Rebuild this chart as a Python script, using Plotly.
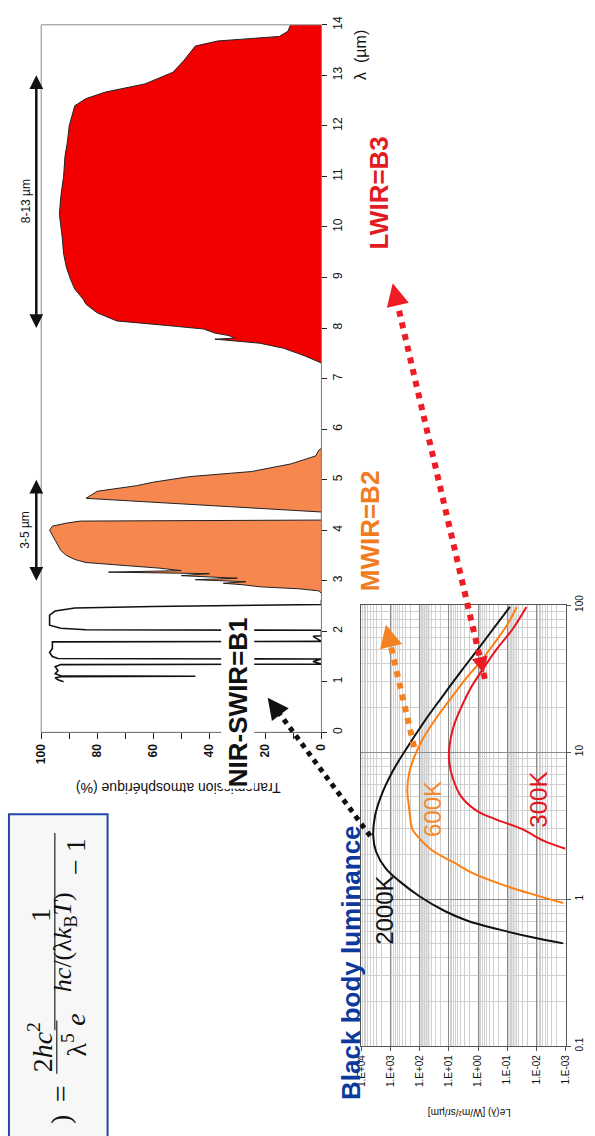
import math
import plotly.graph_objects as go

W, H = 595, 1136
SANS = "Liberation Sans, Arial, Helvetica, sans-serif"
SERIF = "Liberation Serif, Times New Roman, serif"

# ---------------- Atmospheric transmission (wavelength in µm, transmission in %) ----------------
b1_wl = [1.00, 1.04, 1.08, 1.10, 1.11, 1.12, 1.16, 1.22, 1.30, 1.34, 1.35, 1.40, 1.45, 1.46,
         1.50, 1.58, 1.66, 1.74, 1.79, 1.80, 1.90, 1.91, 2.02, 2.03, 2.06, 2.12, 2.22, 2.32,
         2.40, 2.46, 2.49, 2.52, 2.53, 2.62]
b1_tr = [92, 94, 95, 93, 45, 93, 95, 94, 95, 93, 0, 3, 0, 94,
         96, 97, 96, 96, 96, 0, 3, 0, 0, 84, 93, 97, 97, 97,
         95, 88, 60, 25, 0, 0]

mwir_wl = [2.75, 2.80, 2.84, 2.88, 2.92, 2.95, 2.98, 3.02, 3.05, 3.10, 3.14, 3.17, 3.20, 3.25,
           3.30, 3.36, 3.42, 3.50, 3.60, 3.69, 3.80, 3.90, 4.00, 4.08, 4.14, 4.18, 4.19, 4.20,
           4.36, 4.45, 4.55, 4.63, 4.70, 4.77, 4.88, 4.95, 5.06, 5.16, 5.31, 5.40, 5.47, 5.58, 5.62]
mwir_tr = [0, 1, 8, 22, 28, 35, 27, 45, 30, 50, 40, 76, 50, 58,
           70, 84, 88, 91, 93, 94, 95, 96, 97, 96, 91, 86, 40, 0,
           0, 28, 56, 84, 82, 80, 66, 60, 47, 25, 11, 6, 2, 1, 0]

lwir_wl = [7.30, 7.32, 7.45, 7.60, 7.70, 7.78, 7.80, 7.85, 7.90, 7.98, 8.05, 8.14, 8.30, 8.47,
           8.57, 8.77, 8.96, 9.20, 9.47, 9.80, 10.25, 10.60, 11.00, 11.40, 11.70, 12.00, 12.20,
           12.40, 12.54, 12.67, 12.83, 12.95, 13.06, 13.30, 13.58, 13.68, 13.77, 13.87, 14.00]
lwir_tr = [0, 0.5, 6, 13.5, 22, 38, 31, 33, 38, 42, 55, 73, 80, 84,
           85, 88, 89.5, 91, 92, 92.5, 93.5, 93, 92, 91.5, 90.6, 90, 89,
           88, 84, 77, 63, 58, 53, 49, 45, 37, 15, 12, 11]

trans_ticks = [0, 20, 40, 60, 80, 100]
wl_ticks = list(range(0, 15))

# atmospheric windows marked with double arrows (µm)
windows_lo = [3, 8]
windows_hi = [5, 13]
windows_lab = ["3-5 µm", "8-13 µm"]

# ---------------- Black body luminance (wavelength in µm, Le in W/m²/sr/µm) ----------------
bb2000_wl = [0.50, 0.55, 0.62, 0.71, 0.83, 1.05, 1.32, 1.61, 2.10, 2.70, 3.70, 5.00, 7.40,
             10.3, 16.4, 23.4, 35.5, 50.7, 69.0, 97.0]
bb2000_le = [0.0012, 0.014, 0.18, 2.2, 14, 106, 490, 1450, 3150, 3950, 3400, 2140, 850,
             310, 66, 18, 3.8, 0.96, 0.30, 0.081]

bb600_wl = [0.94, 1.06, 1.22, 1.49, 1.77, 2.13, 2.69, 3.00, 4.08, 5.56, 7.23, 9.25, 12.0,
            16.4, 23.4, 30.4, 41.4, 53.9, 73.4, 97.0]
bb600_le = [0.0012, 0.010, 0.10, 1.4, 6.6, 36, 123, 181, 229, 267, 229, 155, 84,
            31, 8.3, 3.05, 0.82, 0.30, 0.10, 0.047]

bb300_wl = [2.20, 2.49, 3.00, 3.50, 3.95, 5.00, 6.50, 8.44, 10.8, 14.7, 20.0, 27.3, 37.2,
            50.7, 69.0, 97.0]
bb300_le = [0.001, 0.0055, 0.032, 0.26, 1.03, 3.84, 7.1, 9.7, 9.7, 7.1, 3.84, 1.78, 0.65,
            0.22, 0.064, 0.022]

le_ticks = [1e-3, 1e-2, 1e-1, 1e0, 1e1, 1e2, 1e3, 1e4]
le_ticklabels = ["1.E-03", "1.E-02", "1.E-01", "1.E+00", "1.E+01", "1.E+02", "1.E+03", "1.E+04"]
bbwl_ticks = [0.1, 1, 10, 100]
bbwl_ticklabels = ["0.1", "1", "10", "100"]

# colours
RED_FILL = "#F20000"
ORANGE_FILL = "#F5874F"
C_BLACK = "#111111"
C_ORANGE = "#FF8010"
C_RED = "#E8141E"

# main plot placement (pixels)
MAIN_L, MAIN_R, MAIN_T, MAIN_B = 35, 322, 15, 732
WL_MAX = 14


def X(px):
    return px / W


def Y(py):
    return 1 - py / H


def wl_px(wl):
    return MAIN_B - wl / WL_MAX * (MAIN_B - MAIN_T)


fig = go.Figure()

# transmission spectrum (rotated: wavelength vertical, transmission horizontal)
fig.add_trace(go.Scatter(x=lwir_tr, y=lwir_wl, mode="lines", fill="tozerox", fillcolor=RED_FILL,
                         line=dict(color="#222222", width=1), xaxis="x", yaxis="y", hoverinfo="skip"))
fig.add_trace(go.Scatter(x=mwir_tr, y=mwir_wl, mode="lines", fill="tozerox", fillcolor=ORANGE_FILL,
                         line=dict(color="#222222", width=1), xaxis="x", yaxis="y", hoverinfo="skip"))
fig.add_trace(go.Scatter(x=b1_tr, y=b1_wl, mode="lines",
                         line=dict(color="#111111", width=1.6), xaxis="x", yaxis="y", hoverinfo="skip"))

# black-body curves
for wl, le, col in [(bb2000_wl, bb2000_le, C_BLACK), (bb600_wl, bb600_le, C_ORANGE),
                    (bb300_wl, bb300_le, C_RED)]:
    fig.add_trace(go.Scatter(x=le, y=wl, mode="lines", line=dict(color=col, width=2, shape="spline"),
                             xaxis="x2", yaxis="y2", hoverinfo="skip"))

shapes = []
anns = []

# main plot frame (gray)
shapes.append(dict(type="rect", xref="paper", yref="paper", x0=X(MAIN_L), x1=X(MAIN_R),
                   y0=Y(MAIN_B), y1=Y(MAIN_T), line=dict(color="#8a8a8a", width=1), layer="above"))

# shaded bands in inset
for a, b in [(45, 100), (0.047, 0.1)]:
    shapes.append(dict(type="rect", xref="x2", yref="y2 domain", x0=a, x1=b, y0=0, y1=1,
                       fillcolor="#e6e6e6", line=dict(width=0), layer="below"))

# formula box
shapes.append(dict(type="rect", xref="paper", yref="paper", x0=X(2), x1=X(103), y0=Y(1145), y1=Y(815),
                   fillcolor="#f7f7f7", line=dict(color="#2246a8", width=2), layer="below"))


def text(t, px, py, size, color="#111111", angle=-90, bold=False, family=SANS, bg=None,
         xanchor="center", yanchor="middle"):
    d = dict(text=t, x=X(px), y=Y(py), xref="paper", yref="paper", showarrow=False,
             textangle=angle, xanchor=xanchor, yanchor=yanchor,
             font=dict(family=family, size=size, color=color, weight="bold" if bold else "normal"))
    if bg:
        d["bgcolor"] = bg
    anns.append(d)


def head(px, py, tx, ty, color, width, size, L=18):
    dx, dy = px - tx, py - ty
    n = math.hypot(dx, dy)
    ux, uy = dx / n, dy / n
    anns.append(dict(x=X(px), y=Y(py), xref="paper", yref="paper", text="", showarrow=True,
                     ax=-ux * L, ay=-uy * L, arrowhead=2, arrowsize=size, arrowwidth=width,
                     arrowcolor=color, font=dict(size=10)))
    return ux, uy


def dotted_arrow(x0, y0, x1, y1, color, width, both=False, hw=3, hs=1.3, dash="dot"):
    ux, uy = head(x1, y1, x0, y0, color, hw, hs)
    sx0, sy0 = x0, y0
    if both:
        head(x0, y0, x1, y1, color, hw * 0.8, hs * 0.9, L=14)
        sx0, sy0 = x0 - ux * 6, y0 - uy * 6
    shapes.append(dict(type="line", xref="paper", yref="paper", x0=X(sx0), y0=Y(sy0),
                       x1=X(x1 - ux * 8), y1=Y(y1 - uy * 8),
                       line=dict(color=color, width=width, dash=dash)))


# band arrows 3-5 µm and 8-13 µm
for lo, hi, lab in zip(windows_lo, windows_hi, windows_lab):
    plo, phi = wl_px(lo), wl_px(hi)
    shapes.append(dict(type="line", xref="paper", yref="paper", x0=X(30), x1=X(30),
                       y0=Y(plo - 8), y1=Y(phi + 8), line=dict(color="#111111", width=2.5)))
    head(30, phi, 30, plo, "#111111", 2.5, 1.1, L=14)
    head(30, plo, 30, phi, "#111111", 2.5, 1.1, L=14)
    text(lab, 19, (plo + phi) / 2, 12)

# axis titles
text("λ  (µm)", 362, 45, 16)
text("Transmission atmosphérique (%)", 175, 789, 14, angle=180)
text("Le(λ) [W/m²/sr/µm]", 473, 1118, 10, angle=180)

# dotted arrows
dotted_arrow(372, 837, 267, 697, "#111111", 5, hw=3, hs=1.4)
dotted_arrow(417, 747, 388, 623, "#F58220", 6, hw=3, hs=1.5)
dotted_arrow(488, 672, 395, 277, "#EE1C25", 6, both=True, hw=3, hs=1.5)

# band labels
text("NIR-SWIR=B1", 236, 701, 26, bold=True, bg="white")
text("MWIR=B2", 372, 528, 26, color="#F07C1E", bold=True)
text("LWIR=B3", 381, 186, 26, color="#E31B23", bold=True)

# black body labels
text("Black body luminance", 353, 965, 26, color="#0B3A9C", bold=True)
text("2000K", 387, 912, 24, color="#111111")
text("600K", 436, 810, 24, color="#F28A2E")
text("300K", 544, 800, 24, color="#E3141E")

# formula (rotated)
text(")", 54, 1124, 28, family=SERIF)
text("=", 55, 1098, 30, family=SERIF)
text("2<i>hc</i><sup>2</sup>", 34, 1051, 28, family=SERIF)
text("λ<sup>5</sup>", 69, 1048, 28, family=SERIF)
shapes.append(dict(type="line", xref="paper", yref="paper", x0=X(51), x1=X(51), y0=Y(1024), y1=Y(1078),
                   line=dict(color="#222222", width=1.2)))
text("1", 35, 917, 28, family=SERIF)
shapes.append(dict(type="line", xref="paper", yref="paper", x0=X(49), x1=X(49), y0=Y(834), y1=Y(1034),
                   line=dict(color="#222222", width=1.2)))
text("<i>e</i>", 70, 1023, 28, family=SERIF)
text("<i>hc</i>/(λ<i>k</i><sub>B</sub><i>T</i>)", 58, 945, 26, family=SERIF)
text("− 1", 70, 858, 28, family=SERIF)

axis_common = dict(showgrid=False, zeroline=False, showline=True, linecolor="#222222", linewidth=1,
                   ticks="outside", tickcolor="#222222")

fig.update_layout(
    width=W, height=H, margin=dict(l=0, r=0, t=0, b=0),
    paper_bgcolor="white", plot_bgcolor="white", showlegend=False,
    font=dict(family=SANS, color="#111111"),
    xaxis=dict(domain=[X(MAIN_L), X(MAIN_R)], range=[100, 0], anchor="y", tickmode="array",
               tickvals=trans_ticks, tickangle=-90, ticklen=6,
               tickfont=dict(size=12, weight="bold"),
               minor=dict(dtick=10, ticks="outside", ticklen=6, tickcolor="#222222"),
               **axis_common),
    yaxis=dict(domain=[Y(MAIN_B), Y(MAIN_T)], range=[0, WL_MAX], anchor="x", side="right",
               tickmode="array", tickvals=wl_ticks, tickangle=-90, ticklen=5, tickfont=dict(size=12),
               **axis_common),
    xaxis2=dict(domain=[X(363), X(572)], type="log", range=[4, -3], anchor="y2", tickmode="array",
                tickvals=le_ticks, ticktext=le_ticklabels, tickangle=-90, ticklen=4,
                tickfont=dict(size=10), showgrid=True, gridcolor="#8c8c8c", gridwidth=1,
                minor=dict(dtick="D1", showgrid=True, gridcolor="#d0d0d0", gridwidth=1, ticks=""),
                zeroline=False, showline=True, linecolor="#555555", mirror=True, ticks="outside",
                tickcolor="#555555"),
    yaxis2=dict(domain=[Y(1050), Y(603)], type="log", range=[-1, 2], anchor="x2", side="right",
                tickmode="array", tickvals=bbwl_ticks, ticktext=bbwl_ticklabels, tickangle=-90,
                ticklen=4, tickfont=dict(size=10), showgrid=True, gridcolor="#8c8c8c", gridwidth=1,
                minor=dict(dtick="D1", showgrid=True, gridcolor="#d0d0d0", gridwidth=1, ticks=""),
                zeroline=False, showline=True, linecolor="#555555", mirror=True, ticks="outside",
                tickcolor="#555555"),
    shapes=shapes, annotations=anns,
)

fig.write_html("out.html")
